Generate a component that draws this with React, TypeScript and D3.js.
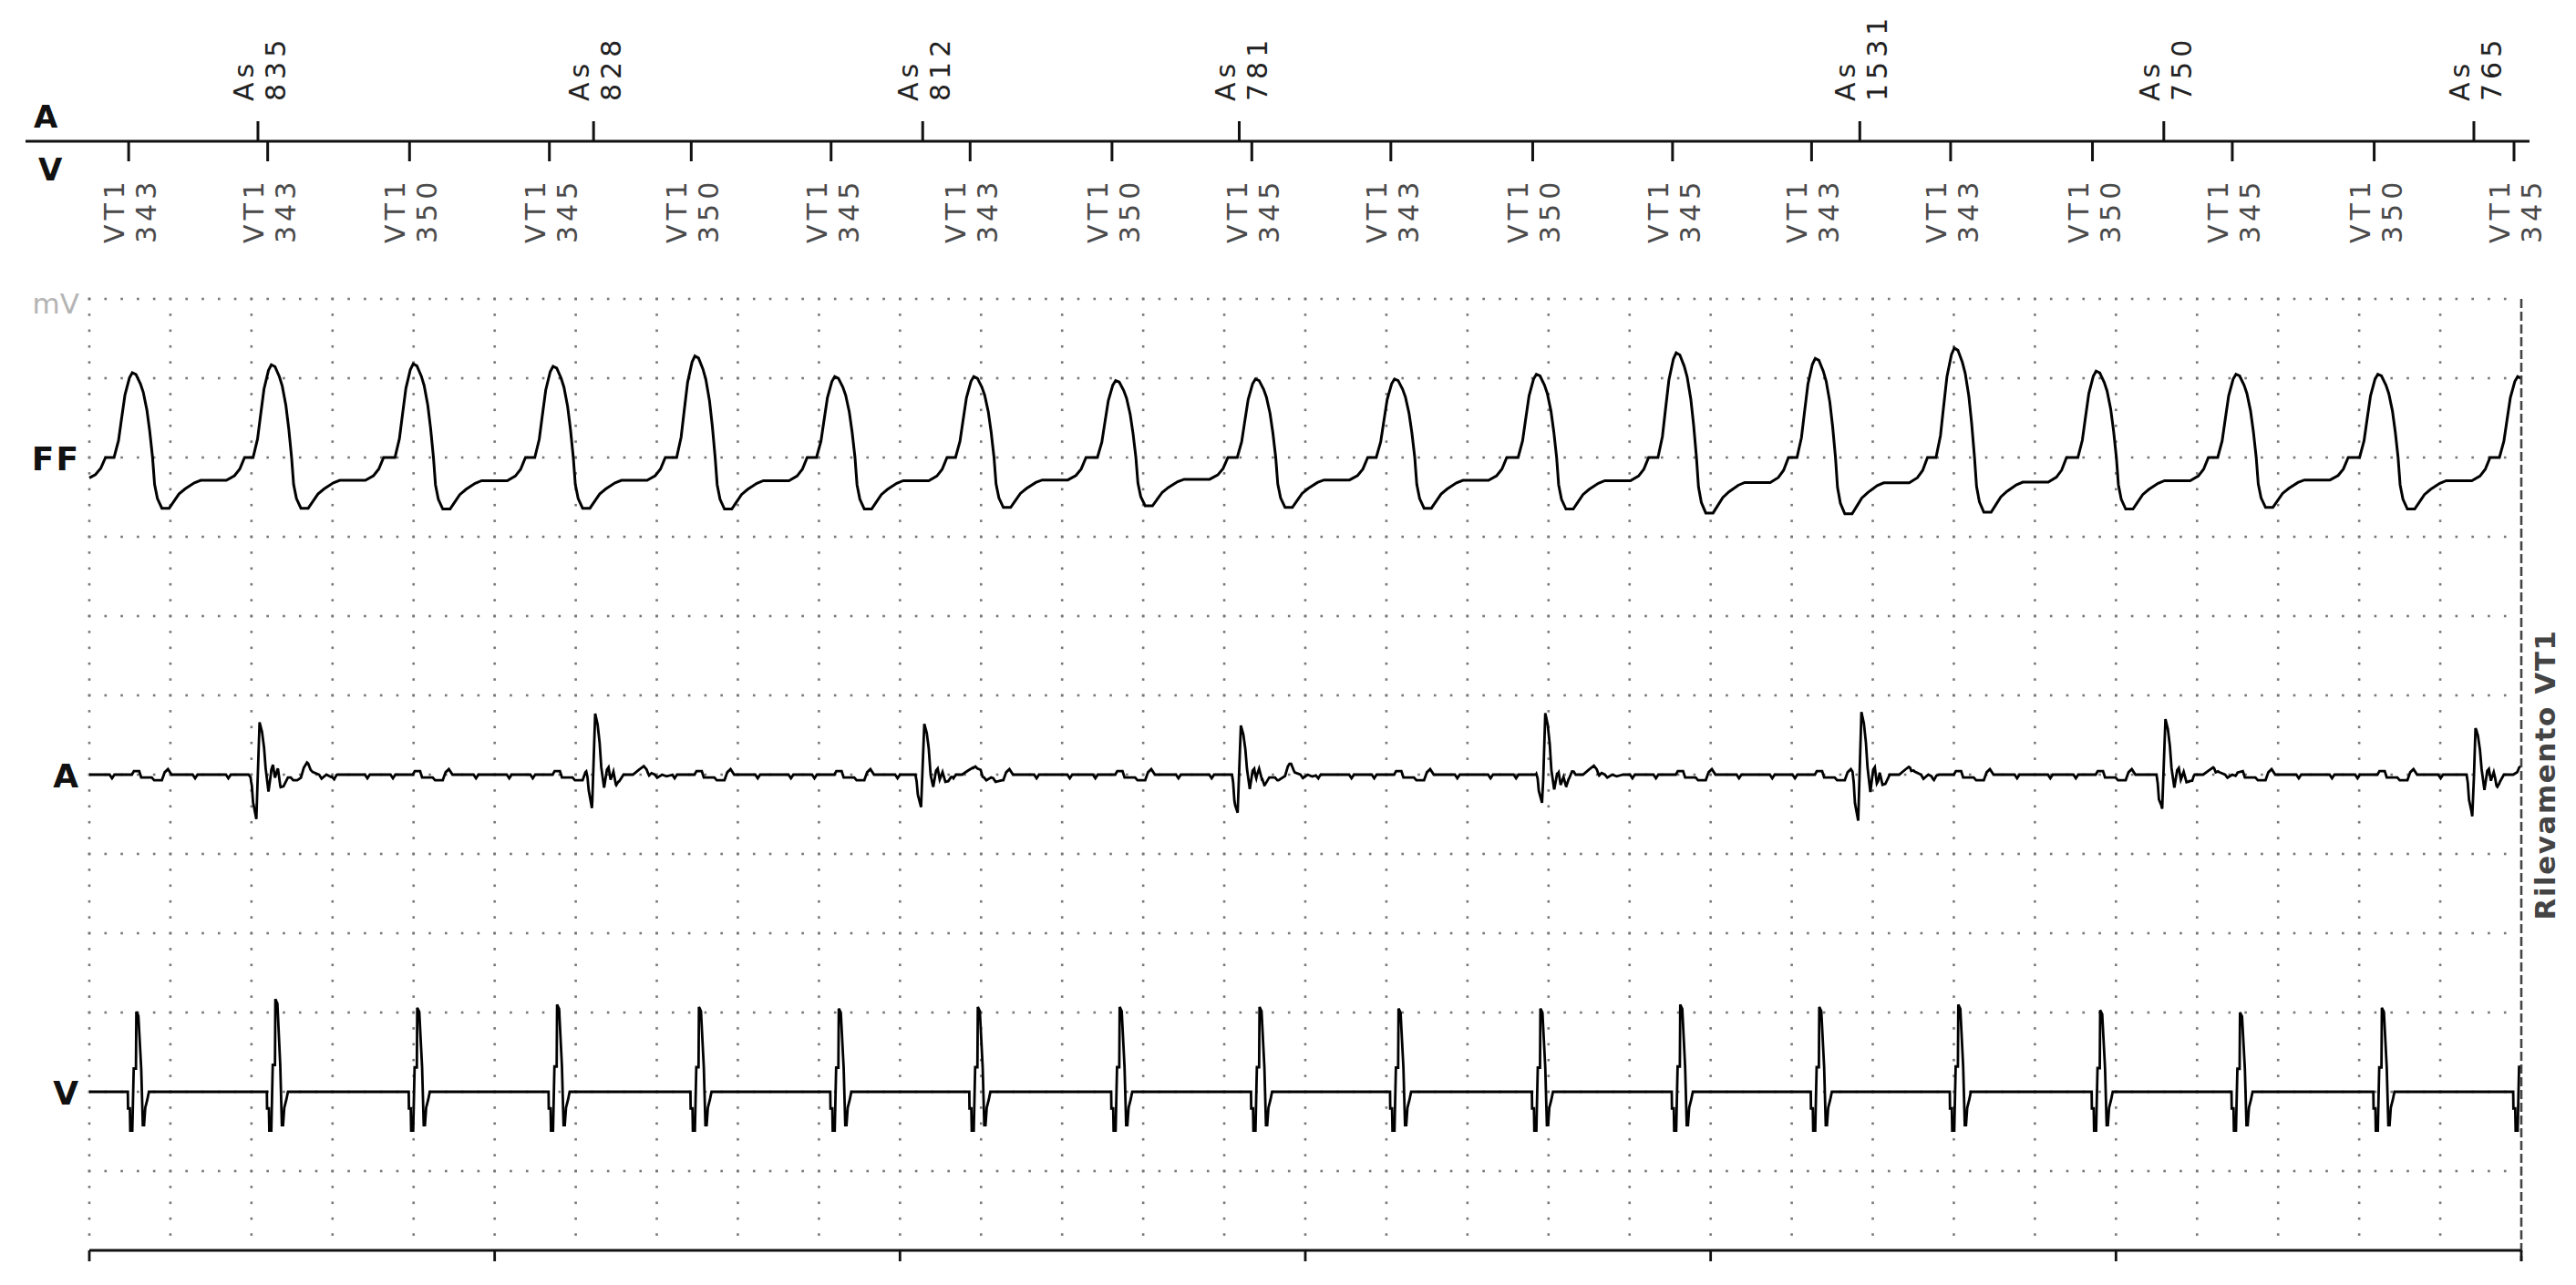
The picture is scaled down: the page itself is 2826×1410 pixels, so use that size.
import React from 'react'
import * as d3 from 'd3'

const W = 2826
const H = 1410

// marker channel (ms from start of strip)
const vTimes = [97, 440, 790, 1135, 1485, 1830, 2173, 2523, 2868, 3211, 3561, 3906, 4249, 4592, 4942, 5287, 5637, 5982]
const vIntervals = [343, 343, 350, 345, 350, 345, 343, 350, 345, 343, 350, 345, 343, 343, 350, 345, 350, 345]
const vCode = 'VT1'
const aTimes = [416, 1244, 2056, 2837, 4368, 5118, 5883]
const aIntervals = [835, 828, 812, 781, 1531, 750, 765]
const aCode = 'As'

// atrial spikes seen on the A egm (3588 falls in blanking, no marker)
const aSpikeTimes = [416, 1244, 2056, 2837, 3588, 4368, 5118, 5883]
const aSpikeUp = [0.66, 0.77, 0.64, 0.62, 0.81, 0.79, 0.70, 0.60]
const aSpikeDown = [0.56, 0.43, 0.41, 0.48, 0.40, 0.58, 0.43, 0.51]

// beat shapes: [ms from event, normalised amplitude]
const ffShape: [number, number][] = [
  [-36, 0], [-25, 0.2], [-18, 0.44], [-9, 0.74], [2, 0.94], [9, 1], [18, 0.98], [29, 0.87],
  [36, 0.77], [45, 0.56], [52, 0.31], [59, 0], [64, -0.53], [71, -0.81], [82, -1], [100, -1],
  [112, -0.86], [124, -0.72], [139, -0.62], [162, -0.5], [178, -0.45], [241, -0.45],
  [261, -0.36], [274, -0.23], [286, 0],
]
// per ventricular beat, previous (off-strip) beat first
const ffPeak = [1.05, 1.07, 1.17, 1.18, 1.15, 1.28, 1.02, 1.02, 0.97, 0.99, 0.99, 1.05, 1.32, 1.25, 1.38, 1.09, 1.05, 1.05, 1.02]
const ffTrough = [0.6, 0.64, 0.64, 0.65, 0.64, 0.65, 0.65, 0.63, 0.61, 0.63, 0.64, 0.65, 0.7, 0.71, 0.69, 0.65, 0.63, 0.65, 0.64]

const vShape: [number, number][] = [
  [-4, 0], [-2, 0], [-1.5, -0.21], [3, -0.21], [4, -0.49], [9, -0.49], [12.5, 0.29], [18, 0.29],
  [19, 1], [24, 0.95], [31, 0.29], [35, -0.42], [38, -0.42], [41, -0.2], [46, -0.1], [50, 0],
]
const vPeak = [1.01, 1.17, 1.06, 1.1, 1.07, 1.05, 1.07, 1.07, 1.07, 1.05, 1.05, 1.1, 1.07, 1.1, 1.03, 1.0, 1.06, 1.08]

const aShape: [number, number][] = [
  [-18, 0], [-15, -0.2], [-12, -0.62], [-4, -1], [4, 1], [10, 0.82], [15, 0.52], [19, 0.12],
  [26, -0.38], [33, 0.08], [37, 0.12], [42, -0.15], [49, 0.05], [56, -0.22], [63, -0.2], [74, 0],
  [97, 0], [112, 0.08], [124, 0.14], [135, 0.05], [151, 0], [157, -0.09], [169, 0], [180, -0.05], [196, 0],
]
// small ventricular far field on the atrial channel
const aFarShape: [number, number][] = [
  [-47, 0], [-41, -0.045], [-35, 0], [8, 0], [13, 0.045], [26, 0.045], [31, -0.035], [57, -0.035],
  [63, -0.07], [82, -0.07], [89, 0.03], [97, 0.07], [106, 0], [158, 0], [164, -0.045], [170, 0],
  [240, 0], [246, -0.045], [252, 0],
]

const channels = ['FF', 'A', 'V']
const channelRows = [2, 6, 10]

type Beat = { t: number; shape: [number, number][]; up: number; down: number }

// sum the beats into one polyline over [t0, t1]
function buildTrace(beats: Beat[], t0: number, t1: number): [number, number][] {
  const parts = beats.map((b) => ({
    b,
    s: d3.scaleLinear().domain(b.shape.map((p) => p[0] + b.t)).range(b.shape.map((p) => p[1])).clamp(true),
  }))
  let ts = [t0, t1]
  beats.forEach((b) => b.shape.forEach((p) => {
    const t = p[0] + b.t
    if (t > t0 && t < t1) ts.push(t)
  }))
  ts.sort((a, b) => a - b)
  ts = ts.filter((t, i) => i === 0 || t !== ts[i - 1])
  return ts.map((t) => {
    let v = 0
    parts.forEach(({ b, s }) => {
      const n = s(t)
      v += n > 0 ? n * b.up : n * b.down
    })
    return [t, v]
  })
}

export default function App() {
  const x = d3.scaleLinear().domain([0, 6000]).range([98, 2766])
  const y = d3.scaleLinear().domain([0, 12]).range([328, 1372])

  const prevV = vTimes[0] - vIntervals[0]
  const ffBeats: Beat[] = [prevV, ...vTimes].map((t, i) => ({ t, shape: ffShape, up: ffPeak[i], down: ffTrough[i] }))
  const aBeats: Beat[] = [
    ...aSpikeTimes.map((t, i) => ({ t, shape: aShape, up: aSpikeUp[i], down: aSpikeDown[i] })),
    ...vTimes.map((t) => ({ t, shape: aFarShape, up: 1, down: 1 })),
  ]
  const vBeats: Beat[] = vTimes.map((t, i) => ({ t, shape: vShape, up: vPeak[i], down: 1 }))
  const traces = [ffBeats, aBeats, vBeats].map((b) => buildTrace(b, 0, 6000))

  // grid dots
  const colT = d3.range(0, 6000, 200)
  const rowMinor = d3.range(0, 12, 0.2)
  const rowsMajor = d3.range(0, 12)
  const tMinor = d3.range(0, 6000, 40)
  const dots: [number, number][] = []
  colT.forEach((t) => rowMinor.forEach((r) => dots.push([x(t), y(r)])))
  rowsMajor.forEach((r) => tMinor.forEach((t) => dots.push([x(t), y(r)])))

  const markFont = { fontFamily: 'DejaVu Sans', fontSize: 30, letterSpacing: 5 }
  const boldFont = { fontFamily: 'DejaVu Sans', fontWeight: 'bold' as const }

  return (
    <svg width={W} height={H} style={{ position: 'fixed', left: 0, top: 0, background: '#fff' }}>
      <rect width={W} height={H} fill="#fff" />

      {/* marker channel */}
      <line x1={28} x2={2775} y1={155} y2={155} stroke="#111" strokeWidth={3.2} />
      <text x={37} y={140} fontSize={34} {...boldFont} fill="#111">A</text>
      <text x={42} y={198} fontSize={34} {...boldFont} fill="#111">V</text>
      {aTimes.map((t, i) => (
        <g key={'a' + i} transform={`translate(${x(t)},0)`}>
          <line y1={133} y2={155} stroke="#111" strokeWidth={3} />
          <text transform="translate(-5,111) rotate(-90)" {...markFont} fill="#222">{aCode}</text>
          <text transform="translate(30,111) rotate(-90)" {...markFont} fill="#222">{aIntervals[i]}</text>
        </g>
      ))}
      {vTimes.map((t, i) => (
        <g key={'v' + i} transform={`translate(${x(t)},0)`}>
          <line y1={155} y2={177} stroke="#111" strokeWidth={3} />
          <text transform="translate(-5,267) rotate(-90)" {...markFont} fill="#4a4a4a">{vCode}</text>
          <text transform="translate(30,267) rotate(-90)" {...markFont} fill="#4a4a4a">{vIntervals[i]}</text>
        </g>
      ))}

      {/* grid */}
      <g fill="#777">
        {dots.map((d, i) => (
          <rect key={i} x={d[0] - 1.3} y={d[1] - 1.3} width={2.6} height={2.6} />
        ))}
      </g>
      <text x={87} y={344} textAnchor="end" fontFamily="DejaVu Sans" fontSize={31} fill="#b4b4b4">mV</text>

      {/* channels */}
      {channels.map((c, i) => {
        const row = channelRows[i]
        const line = d3.line<[number, number]>().x((d) => x(d[0])).y((d) => y(row - d[1]))
        return (
          <g key={c}>
            <text x={88} y={y(row) + 14} textAnchor="end" fontSize={36} {...boldFont} fill="#111" letterSpacing={2}>{c}</text>
            <path d={line(traces[i]) || ''} fill="none" stroke="#000" strokeWidth={i === 0 ? 3 : 2.8} strokeLinejoin="miter" />
          </g>
        )
      })}

      {/* end of episode */}
      <line x1={x(6000)} x2={x(6000)} y1={y(0)} y2={y(12) + 12} stroke="#444" strokeWidth={2.6} strokeDasharray="10 4" />
      <text transform={`translate(2803,850) rotate(-90)`} textAnchor="middle" fontSize={31} {...boldFont} letterSpacing={1.5} fill="#444">
        Rilevamento VT1
      </text>

      {/* time axis */}
      <line x1={x(0)} x2={x(6000)} y1={y(12)} y2={y(12)} stroke="#111" strokeWidth={2.8} />
      {d3.range(0, 6001, 1000).map((t) => (
        <line key={t} x1={x(t)} x2={x(t)} y1={y(12)} y2={y(12) + 12} stroke="#111" strokeWidth={2.8} />
      ))}
    </svg>
  )
}
